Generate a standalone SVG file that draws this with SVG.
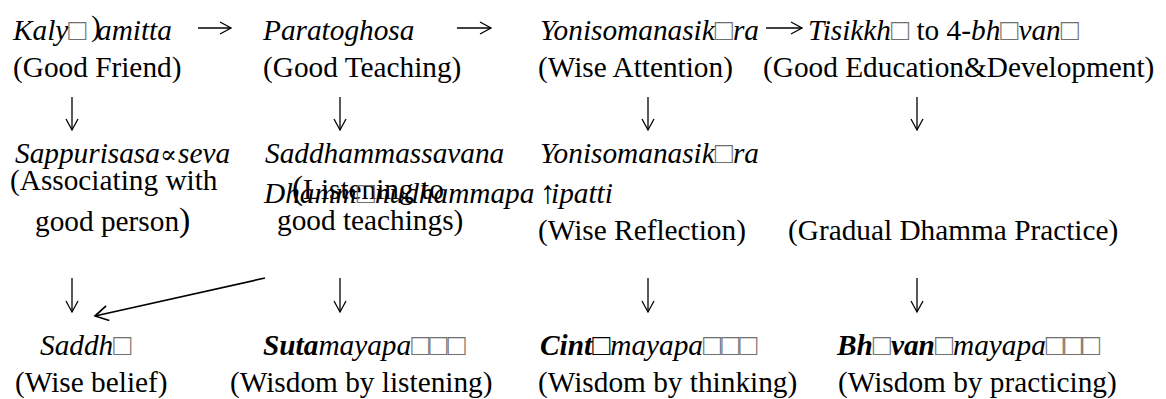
<svg xmlns="http://www.w3.org/2000/svg" width="1166" height="399" viewBox="0 0 1166 399" font-family="Liberation Serif, Times New Roman, serif">
  <defs>
    <style>
      text { font-family: "Liberation Serif", "Times New Roman", Times, serif; font-size: 29.3px; fill: #000; }
      .pali { font-style: italic; }
      .bi { font-style: italic; font-weight: bold; }
      .tofu { fill: #707070; font-size: 30px; font-weight: normal; }
      .sym { font-family: "DejaVu Serif", "Liberation Serif", serif; }
      .conn path { fill: none; stroke: #000; stroke-width: 1.3; }
      .conn path.cross { stroke-width: 1.7; }
    </style>
    <marker id="head" viewBox="0 0 14 14" refX="12.5" refY="7" markerWidth="14" markerHeight="14" markerUnits="userSpaceOnUse" orient="auto">
      <path d="M1.5,1 L12.5,7 L1.5,13" fill="none" stroke="#000" stroke-width="1.3"/>
    </marker>
    <marker id="headLg" viewBox="0 0 16 18" refX="14.5" refY="9" markerWidth="16" markerHeight="18" markerUnits="userSpaceOnUse" orient="auto">
      <path d="M1.5,1.5 L14.5,9 L1.5,16.5" fill="none" stroke="#000" stroke-width="1.7"/>
    </marker>
  </defs>

  <!-- row 1: the four starting factors -->
  <g id="n-kalyanamitta">
    <text x="13" y="40"><tspan class="pali">Kaly</tspan><tspan class="pali tofu">□</tspan></text>
    <text x="91" y="36" font-size="35px">)</text>
    <text class="pali" x="97" y="40">amitta</text>
    <text x="13" y="77">(Good Friend)</text>
  </g>
  <g id="n-paratoghosa">
    <text class="pali" x="263" y="40">Paratoghosa</text>
    <text x="263" y="77">(Good Teaching)</text>
  </g>
  <g id="n-yoniso-1">
    <text x="540" y="40"><tspan class="pali">Yonisomanasik</tspan><tspan class="pali tofu">□</tspan><tspan class="pali">ra</tspan></text>
    <text x="538" y="77">(Wise Attention)</text>
  </g>
  <g id="n-tisikkha">
    <text x="808" y="40"><tspan class="pali">Tisikkh</tspan><tspan class="pali tofu">□</tspan><tspan> to 4-</tspan><tspan class="pali">bh</tspan><tspan class="pali tofu">□</tspan><tspan class="pali">van</tspan><tspan class="pali tofu">□</tspan></text>
    <text x="763" y="77">(Good Education&amp;Development)</text>
  </g>

  <!-- row 2: the practices -->
  <g id="n-sappurisa">
    <text x="15" y="163"><tspan class="pali">Sappurisasa</tspan><tspan class="pali sym" x="160" font-size="25px">∝</tspan><tspan class="pali" x="178">seva</tspan></text>
    <text x="10" y="190">(Associating with</text>
    <text x="35" y="231">good person<tspan font-size="34px">)</tspan></text>
  </g>
  <g id="n-saddhammassavana">
    <text class="pali" x="265" y="163">Saddhammassavana</text>
    <text x="292" y="199"><tspan font-size="33px">(</tspan>Listening to</text>
    <text x="277" y="230">good teachings)</text>
  </g>
  <g id="n-dhammanudhamma">
    <text x="264" y="203"><tspan class="pali">Dhamm</tspan><tspan class="pali tofu">□</tspan><tspan class="pali">nudhammapa</tspan><tspan class="pali" x="540" font-size="32px">↑</tspan><tspan class="pali" x="551">ipatti</tspan></text>
    <text x="788" y="240">(Gradual Dhamma Practice)</text>
  </g>
  <g id="n-yoniso-2">
    <text x="540" y="163"><tspan class="pali">Yonisomanasik</tspan><tspan class="pali tofu">□</tspan><tspan class="pali">ra</tspan></text>
    <text x="538" y="240">(Wise Reflection)</text>
  </g>

  <!-- row 3: the results -->
  <g id="n-saddha">
    <text x="40" y="355"><tspan class="pali">Saddh</tspan><tspan class="pali tofu">□</tspan></text>
    <text x="15" y="392">(Wise belief)</text>
  </g>
  <g id="n-sutamaya">
    <text x="263" y="355"><tspan class="bi">Suta</tspan><tspan class="pali">mayapa</tspan><tspan class="pali tofu">□□□</tspan></text>
    <text x="230" y="392">(Wisdom by listening)</text>
  </g>
  <g id="n-cintamaya">
    <text x="540" y="355"><tspan class="bi">Cint</tspan><tspan class="bi tofu" style="fill:#000;font-weight:bold">□</tspan><tspan class="pali">mayapa</tspan><tspan class="pali tofu">□□□</tspan></text>
    <text x="538" y="392">(Wisdom by thinking)</text>
  </g>
  <g id="n-bhavanamaya">
    <text x="837" y="355"><tspan class="bi">Bh</tspan><tspan class="bi tofu">□</tspan><tspan class="bi">van</tspan><tspan class="bi tofu">□</tspan><tspan class="pali">mayapa</tspan><tspan class="pali tofu">□□□</tspan></text>
    <text x="838" y="392">(Wisdom by practicing)</text>
  </g>

  <!-- connectors -->
  <g id="connectors" class="conn">
    <path d="M198,28 H231" marker-end="url(#head)"/>
    <path d="M457,28 H491" marker-end="url(#head)"/>
    <path d="M766,28 H802" marker-end="url(#head)"/>

    <path d="M72,97 V130" marker-end="url(#head)"/>
    <path d="M340,97 V130" marker-end="url(#head)"/>
    <path d="M648,97 V130" marker-end="url(#head)"/>
    <path d="M917,97 V130" marker-end="url(#head)"/>

    <path d="M72,278 V312" marker-end="url(#head)"/>
    <path d="M340,278 V312" marker-end="url(#head)"/>
    <path d="M648,278 V312" marker-end="url(#head)"/>
    <path d="M917,278 V312" marker-end="url(#head)"/>

    <path class="cross" d="M265,278 L95,316" marker-end="url(#headLg)"/>
  </g>
</svg>
